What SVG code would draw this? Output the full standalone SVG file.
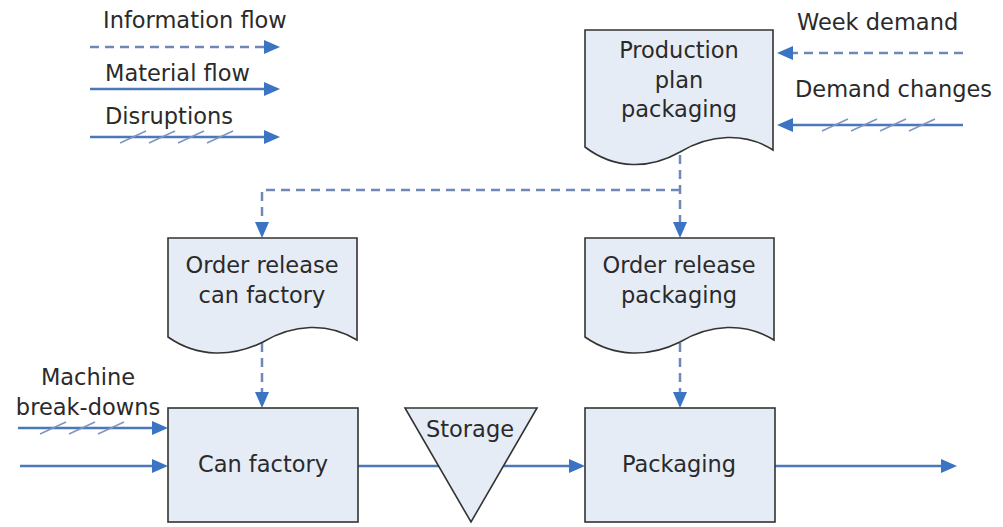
<svg xmlns="http://www.w3.org/2000/svg" width="1003" height="527" viewBox="0 0 1003 527">
<defs>
<style>
text{font-family:"DejaVu Sans","Liberation Sans",sans-serif;font-size:22.5px;fill:#2a2a2a}
.c{text-anchor:middle}
.box{fill:#e6ecf6;stroke:#333;stroke-width:1.6}
.flow{fill:none;stroke:#4a78b8;stroke-width:2.5;marker-end:url(#ah)}
.info{fill:none;stroke:#6f88b8;stroke-width:2.5;stroke-dasharray:9 6;marker-end:url(#ah)}
.infon{fill:none;stroke:#6f88b8;stroke-width:2.5;stroke-dasharray:9 6}
.hatch{stroke:#7f95c0;stroke-width:1.5}
</style>
<marker id="ah" markerUnits="userSpaceOnUse" markerWidth="16" markerHeight="14" viewBox="0 0 16 14" refX="12" refY="7" orient="auto">
<path d="M0,0 L16,7 L0,14 Z" fill="#3b74c2"/>
</marker>
</defs>
<rect width="1003" height="527" fill="#fff"/>
<g id="connectors">
<path class="info" d="M90,47 H276"/>
<path class="flow" d="M90,89 H276"/>
<path class="flow" d="M90,137 H276"/>
<g class="hatch"><line x1="120" y1="143" x2="146" y2="131"/><line x1="149" y1="143" x2="175" y2="131"/><line x1="178" y1="143" x2="204" y2="131"/><line x1="207" y1="143" x2="233" y2="131"/></g>
<path class="info" d="M963,53 H781"/>
<path class="flow" d="M963,125 H781"/>
<g class="hatch"><line x1="822" y1="131" x2="848" y2="119"/><line x1="851" y1="131" x2="877" y2="119"/><line x1="880" y1="131" x2="906" y2="119"/><line x1="909" y1="131" x2="935" y2="119"/></g>
<path class="info" d="M680,155 V234"/>
<path class="info" d="M680,190 H262 V234"/>
<path class="info" d="M262,343 V404"/>
<path class="info" d="M680,343 V404"/>
<path class="flow" d="M18,428 H164"/>
<g class="hatch"><line x1="40" y1="434" x2="66" y2="422"/><line x1="69" y1="434" x2="95" y2="422"/><line x1="98" y1="434" x2="124" y2="422"/></g>
<path class="flow" d="M20,466 H164"/>
<path class="flow" d="M358,466 H581"/>
<path class="flow" d="M775,466 H953"/>
</g>
<g id="legend">
<text x="103" y="28">Information flow</text>
<text x="105" y="81">Material flow</text>
<text x="105" y="124">Disruptions</text>
</g>
<g id="labels">
<text x="797" y="30">Week demand</text>
<text x="795" y="97">Demand changes</text>
<text class="c" x="88" y="385">Machine</text>
<text class="c" x="88" y="415">break-downs</text>
</g>
<g id="production-plan">
<path class="box" d="M585,30 H773 V150 C745,132 710,134 680,152 C650,169 615,170 585,147 Z"/>
<text class="c" x="679" y="58">Production</text>
<text class="c" x="679" y="88">plan</text>
<text class="c" x="679" y="117">packaging</text>
</g>
<g id="order-release-can">
<path class="box" d="M168,238 H357 V340 C328,322 293,324 263,342 C233,357 198,358 168,337 Z"/>
<text class="c" x="262" y="273">Order release</text>
<text class="c" x="262" y="303">can factory</text>
</g>
<g id="order-release-packaging">
<path class="box" d="M585,238 H774 V340 C745,322 710,324 680,342 C650,357 615,358 585,337 Z"/>
<text class="c" x="679" y="273">Order release</text>
<text class="c" x="679" y="303">packaging</text>
</g>
<g id="can-factory">
<rect class="box" x="168" y="408" width="190" height="114"/>
<text class="c" x="263" y="472">Can factory</text>
</g>
<g id="storage">
<path class="box" d="M405,408 H537 L471,522 Z"/>
<text class="c" x="470" y="437">Storage</text>
</g>
<g id="packaging">
<rect class="box" x="585" y="408" width="190" height="114"/>
<text class="c" x="679" y="472">Packaging</text>
</g>
</svg>
